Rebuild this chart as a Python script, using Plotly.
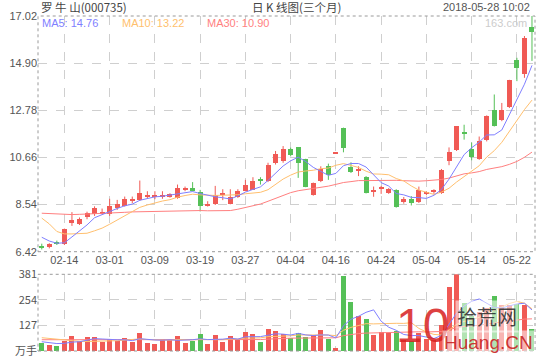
import plotly.graph_objects as go

# ---------------- data ----------------
dates = ["02-09", "02-12", "02-13", "02-14", "02-22", "02-23", "02-26", "02-27", "02-28",
         "03-01", "03-02", "03-05", "03-06", "03-07", "03-08", "03-09",
         "03-12", "03-13", "03-14", "03-15", "03-16", "03-19", "03-20", "03-21", "03-22", "03-23",
         "03-26", "03-27", "03-28", "03-29", "03-30", "04-02", "04-03", "04-04",
         "04-09", "04-10", "04-11", "04-12", "04-13", "04-16", "04-17", "04-18", "04-19", "04-20",
         "04-23", "04-24", "04-25", "04-26", "04-27", "05-02", "05-03", "05-04",
         "05-07", "05-08", "05-09", "05-10", "05-11", "05-14", "05-15", "05-16", "05-17", "05-18",
         "05-21", "05-22", "05-23", "05-24"]

open_ = [6.65, 6.61, 6.80, 6.76, 7.73, 7.68, 7.96, 8.10, 8.16, 8.10,
         8.39, 8.49, 8.74, 8.74, 8.90, 8.90, 8.90, 8.89, 8.84, 9.20,
         9.29, 9.11, 8.49, 8.55, 8.98, 8.58, 8.89, 9.17, 9.21, 9.71,
         9.59, 10.42, 10.50, 11.05, 11.14, 10.57, 8.96, 9.59, 10.29, 10.84,
         11.99, 10.23, 10.05, 9.79, 9.14, 9.24, 9.07, 9.20, 8.65, 8.80,
         8.65, 9.03, 9.11, 9.07, 10.50, 11.00, 11.80, 11.04, 10.59, 11.46,
         12.81, 12.33, 12.93, 15.04, 14.39, 16.51]
high = [6.78, 6.80, 6.92, 7.46, 8.20, 7.96, 8.22, 8.46, 8.36, 8.80,
        8.75, 8.90, 8.90, 9.62, 9.14, 9.14, 9.14, 9.05, 9.44, 9.35,
        9.55, 9.20, 8.69, 9.38, 9.23, 9.23, 9.23, 9.65, 9.77, 9.77,
        10.42, 10.95, 11.17, 11.10, 11.12, 10.60, 9.53, 10.26, 10.38, 10.86,
        12.00, 10.44, 10.26, 9.82, 9.35, 9.38, 9.28, 9.23, 8.88, 8.92,
        9.35, 9.14, 9.23, 10.14, 11.11, 12.06, 12.13, 11.33, 11.60, 12.55,
        13.49, 13.11, 14.15, 15.14, 16.12, 17.02]
low = [6.52, 6.57, 6.72, 6.72, 7.58, 7.62, 7.88, 8.03, 8.10, 8.03,
       8.30, 8.45, 8.60, 8.70, 8.80, 8.78, 8.80, 8.85, 8.80, 9.14,
       9.14, 8.23, 8.45, 8.52, 8.74, 8.55, 8.84, 9.14, 9.21, 9.44,
       9.55, 10.34, 10.42, 10.71, 9.74, 9.32, 8.94, 9.55, 9.65, 10.84,
       10.89, 9.96, 9.82, 9.04, 8.89, 9.02, 9.02, 8.40, 8.58, 8.50,
       8.61, 8.96, 9.02, 9.02, 10.31, 10.95, 11.46, 10.53, 10.55, 11.38,
       12.05, 12.29, 12.88, 14.09, 14.24, 15.00]
close = [6.60, 6.76, 6.77, 7.44, 7.85, 7.88, 8.18, 8.39, 8.18, 8.49,
         8.58, 8.78, 8.77, 9.04, 8.92, 8.92, 8.92, 9.00, 9.29, 9.24,
         9.17, 8.48, 8.58, 8.98, 9.02, 8.89, 9.17, 9.44, 9.59, 9.59,
         10.34, 10.80, 11.05, 10.75, 10.42, 9.35, 9.50, 10.14, 9.86, 10.86,
         11.08, 9.99, 10.14, 9.07, 9.17, 9.26, 9.23, 8.45, 8.77, 8.61,
         9.20, 9.06, 9.14, 10.10, 10.91, 12.06, 11.72, 10.68, 11.38, 12.51,
         12.09, 12.81, 14.12, 14.69, 16.05, 16.32]

# volume, 万手
volume = [40, 30, 25, 50, 75, 50, 66, 66, 41, 60,
          46, 65, 45, 89, 40, 35, 60, 55, 75, 40,
          50, 84, 35, 80, 45, 75, 60, 94, 84, 45,
          109, 96, 84, 63, 87, 70, 79, 101, 60, 15,
          373, 240, 174, 159, 76, 91, 90, 98, 55, 50,
          90, 60, 55, 130, 316, 379, 238, 170, 190, 210,
          272, 227, 227, 233, 227, 106]

# moving-average values before enough in-window history exists
ma5_head = [7.07, 6.90, 6.80, 6.82]
ma10_head = [7.93, 7.67, 7.33, 7.22, 7.22, 7.22, 7.25, 7.36, 7.48]
ma30_head = [8.15, 8.13, 8.11, 8.09, 8.09, 8.10, 8.11, 8.12, 8.13, 8.15,
             8.17, 8.19, 8.21, 8.22, 8.23, 8.24, 8.25, 8.25, 8.26, 8.26,
             8.27, 8.27, 8.26, 8.26, 8.26, 8.27, 8.33, 8.41, 8.48]
vma5_head = [46, 42, 37, 38]
vma10_head = [66, 62, 57, 53, 50, 48, 47, 47, 48]
vma30_head = [56, 56, 55, 55, 55, 55, 55, 55, 55, 55,
              55, 55, 55, 55, 55, 55, 55, 55, 56, 56,
              56, 56, 56, 56, 56, 56, 56, 56, 56]

price_ticks = [6.42, 8.54, 10.66, 12.78, 14.90, 17.02]
vol_ticks = [0, 127, 254, 381]
vol_tick_text = ["万手", "127", "254", "381"]
tick_dates = ["02-14", "03-01", "03-09", "03-19", "03-27", "04-04",
              "04-16", "04-24", "05-04", "05-14", "05-22"]
ma_labels = [("MA5", "14.76"), ("MA10", "13.22"), ("MA30", "10.90")]

# ---------------- styles ----------------
RED = "#f05a55"
GREEN = "#55c057"
C_MA5 = "#7f7fff"
C_MA10 = "#ffbf6e"
C_MA30 = "#ff7f7f"
GRID = "#cfcfcf"
NUM_FONT = "Liberation Sans, Arial, sans-serif"
CJK_FONT = "Noto Sans CJK SC, Liberation Sans, sans-serif"

W, H = 540, 360
X0, X1 = 38, 535
P_TOP, P_BOT = 16, 251.7
V_TOP, V_BOT = 274.3, 351


def ma(values, n, head):
    out = list(head)
    for i in range(n - 1, len(values)):
        out.append(sum(values[i - n + 1:i + 1]) / n)
    return out


ma5 = ma(close, 5, ma5_head)
ma10 = ma(close, 10, ma10_head)
ma30 = ma(close, 30, ma30_head)
vma5 = ma(volume, 5, vma5_head)
vma10 = ma(volume, 10, vma10_head)
vma30 = ma(volume, 30, vma30_head)

colors = [RED if c >= o else GREEN for o, c in zip(open_, close)]
body_lo = [min(o, c) for o, c in zip(open_, close)]
body_h = [max(abs(c - o), 0.05) for o, c in zip(open_, close)]

fig = go.Figure()

# candle bodies (first, so the category order follows the dates)
fig.add_trace(go.Bar(x=dates, y=body_h, base=body_lo, marker=dict(color=colors, line=dict(width=0)),
                     width=0.66, showlegend=False, xaxis="x", yaxis="y"))

# wicks
for col in (RED, GREEN):
    wx, wy = [], []
    for d, h, l, c in zip(dates, high, low, colors):
        if c == col:
            wx += [d, d, None]
            wy += [l, h, None]
    fig.add_trace(go.Scatter(x=wx, y=wy, mode="lines", line=dict(color=col, width=1),
                             hoverinfo="skip", showlegend=False, xaxis="x", yaxis="y"))

# price MAs
for vals, col in ((ma30, C_MA30), (ma10, C_MA10), (ma5, C_MA5)):
    fig.add_trace(go.Scatter(x=dates, y=vals, mode="lines", line=dict(color=col, width=1),
                             showlegend=False, xaxis="x", yaxis="y"))

# volume bars
fig.add_trace(go.Bar(x=dates, y=volume, marker=dict(color=colors, line=dict(width=0)),
                     width=0.66, showlegend=False, xaxis="x2", yaxis="y2"))
for vals, col in ((vma30, C_MA30), (vma10, C_MA10), (vma5, C_MA5)):
    fig.add_trace(go.Scatter(x=dates, y=vals, mode="lines", line=dict(color=col, width=1),
                             showlegend=False, xaxis="x2", yaxis="y2"))

xdom = [X0 / W, X1 / W]
common_x = dict(type="category", categoryorder="array", categoryarray=dates,
                range=[-0.5, 65.4], domain=xdom, showgrid=True,
                gridcolor=GRID, griddash="dash", gridwidth=1, zeroline=False, showline=False,
                tickvals=tick_dates, ticktext=tick_dates, ticks="", tickangle=0, automargin=False,
                tickfont=dict(family=NUM_FONT, size=11, color="#555555"))

fig.update_layout(
    width=W, height=H, margin=dict(l=0, r=0, t=0, b=0),
    paper_bgcolor="white", plot_bgcolor="white", bargap=0, showlegend=False,
    xaxis=dict(common_x, anchor="y"),
    xaxis2=dict(common_x, anchor="y2", matches="x", showticklabels=False),
    yaxis=dict(domain=[1 - P_BOT / H, 1 - P_TOP / H], range=[6.42, 17.02],
               tickvals=price_ticks, ticktext=[f"{v:.2f}" for v in price_ticks],
               showgrid=True, gridcolor=GRID, griddash="dash", zeroline=False, showline=False,
               ticks="", automargin=False,
               tickfont=dict(family=NUM_FONT, size=11, color="#555555")),
    yaxis2=dict(domain=[1 - V_BOT / H, 1 - V_TOP / H], range=[0, 381],
                tickvals=vol_ticks, ticktext=vol_tick_text,
                showgrid=True, gridcolor=GRID, griddash="dash", zeroline=False, showline=False,
                ticks="", automargin=False,
                tickfont=dict(family=CJK_FONT, size=11, color="#555555")),
)

# panel borders (dotted)
for top, bot in ((P_TOP, P_BOT), (V_TOP, V_BOT)):
    fig.add_shape(type="rect", xref="paper", yref="paper",
                  x0=X0 / W, x1=X1 / W, y0=1 - bot / H, y1=1 - top / H,
                  line=dict(color="#9a9a9a", width=1, dash="dot"), layer="above")


def ann(text, x, y, xanchor="left", size=11, color="#333333", family=NUM_FONT, **kw):
    fig.add_annotation(text=text, x=x / W, y=1 - y / H, xref="paper", yref="paper",
                       xanchor=xanchor, yanchor="middle", showarrow=False,
                       font=dict(family=family, size=size, color=color), **kw)


ann("罗 牛 山(000735)", 39, 7, family=CJK_FONT, size=11.5, color="#444444")
ann("日 K 线图(三个月)", 296, 7, xanchor="center", family=CJK_FONT, size=11.5, color="#444444")
ann("2018-05-28 10:02", 532, 7, xanchor="right", color="#555555")

ma_x = [40, 120, 205]
ma_c = [C_MA5, C_MA10, C_MA30]
for (name, val), xx, cc in zip(ma_labels, ma_x, ma_c):
    ann(f"{name}: {val}", xx, 23, color=cc)
ann("163.com", 529, 23, xanchor="right", color="#cccccc")

# site watermark
ann("10", 394, 325, size=48, color="rgba(215,30,30,0.85)",
    family="Liberation Sans, Arial, sans-serif")
ann("拾荒网", 455, 316, size=20, color="rgba(40,40,40,0.85)", family=CJK_FONT,
    bgcolor="rgba(255,255,255,0.55)")
ann("Huang.CN", 442, 342, size=19, color="rgba(200,30,30,0.9)",
    bgcolor="rgba(255,255,255,0.55)")

fig.write_html("out.html", config={"displayModeBar": False},
               post_script="document.body.style.margin='0';document.body.style.overflow='hidden';")
